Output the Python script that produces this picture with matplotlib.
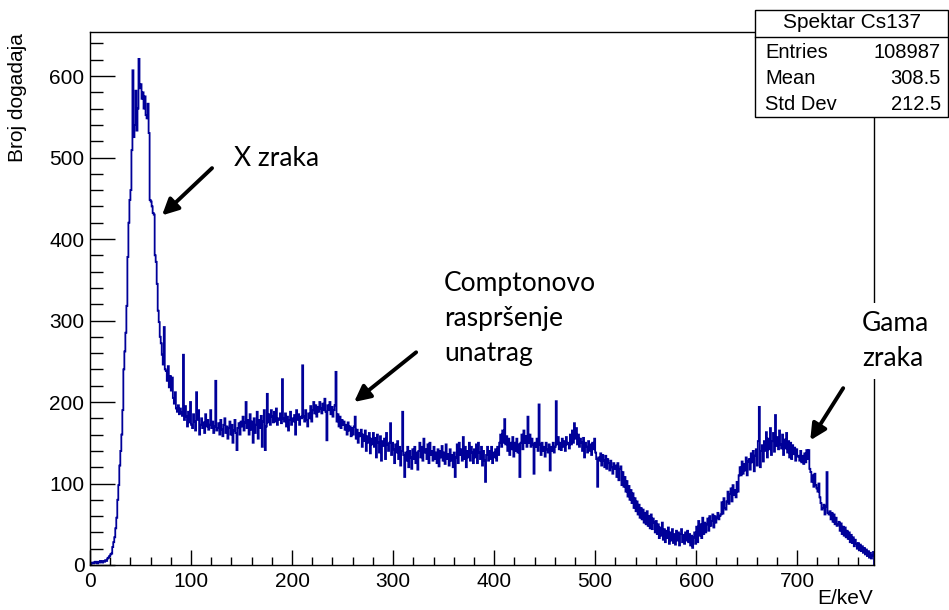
import matplotlib.pyplot as plt
import numpy as np
from matplotlib.patches import Rectangle
from matplotlib.lines import Line2D
from matplotlib.ticker import MultipleLocator

# Spektar Cs137, 1 keV po binu, ocitano sa slike
bin_width = 1
e_min = 0

low_energy = [  # 0 - 99 keV
    1, 2, 3, 2, 3, 4, 3, 2, 4, 3, 5, 4, 3, 5, 4, 6, 5, 8, 9, 11,
    13, 14, 22, 28, 34, 45, 58, 80, 98, 122, 140, 160, 190, 240, 262, 285, 318, 378, 420, 448,
    460, 509, 607, 525, 540, 582, 533, 560, 621, 585, 590, 572, 580, 560, 575, 552, 548, 566, 530, 448,
    446, 440, 432, 430, 380, 372, 345, 312, 298, 280, 272, 258, 246, 292, 240, 238, 226, 244, 218, 232,
    214, 230, 205, 198, 212, 192, 188, 196, 185, 192, 187, 183, 258, 178, 195, 182, 170, 188, 175, 200,
]
compton_a = [  # 100 - 299 keV
    172, 168, 185, 176, 165, 212, 178, 190, 160, 172, 180, 168, 175, 162, 185, 170, 178, 166, 172, 190,
    168, 176, 162, 170, 226, 165, 168, 174, 160, 178, 166, 158, 172, 180, 162, 170, 155, 168, 176, 160,
    172, 150, 165, 178, 162, 141, 168, 174, 160, 176, 170, 182, 165, 175, 200, 168, 178, 160, 185, 166,
    176, 150, 180, 162, 172, 188, 155, 178, 168, 183, 145, 176, 190, 141, 170, 210, 175, 185, 172, 190,
    182, 175, 188, 176, 192, 172, 180, 178, 186, 174, 228, 180, 176, 186, 170, 182, 165, 178, 188, 172,
    180, 176, 184, 160, 190, 178, 185, 172, 182, 180, 245, 182, 176, 190, 178, 170, 186, 180, 195, 176,
    190, 200, 186, 196, 182, 194, 188, 200, 192, 186, 198, 190, 204, 188, 153, 196, 190, 200, 185, 194,
    182, 190, 196, 237, 176, 185, 170, 182, 168, 178, 172, 176, 166, 172, 160, 175, 165, 170, 158, 168,
    160, 170, 182, 155, 166, 150, 162, 158, 166, 145, 160, 152, 165, 140, 158, 150, 162, 137, 155, 148,
    162, 145, 156, 132, 160, 150, 138, 158, 128, 152, 146, 155, 130, 162, 148, 140, 150, 174, 135, 150,
]
compton_b = [  # 300 - 519 keV
    142, 125, 148, 138, 152, 130, 145, 122, 140, 188, 135, 108, 138, 128, 145, 120, 140, 132, 118, 142,
    130, 145, 125, 138, 117, 140, 150, 132, 145, 128, 155, 138, 142, 130, 148, 125, 150, 135, 140, 128,
    145, 130, 138, 125, 142, 121, 140, 132, 146, 128, 138, 124, 148, 130, 136, 122, 142, 128, 135, 120,
    138, 108, 132, 148, 125, 150, 135, 142, 128, 157, 130, 145, 120, 140, 132, 150, 128, 145, 138, 125,
    142, 132, 148, 125, 150, 138, 130, 145, 122, 140, 128, 102, 135, 145, 128, 140, 130, 145, 125, 138,
    132, 142, 128, 145, 135, 150, 160, 145, 165, 150, 179, 148, 158, 140, 155, 135, 150, 142, 157, 133,
    150, 140, 155, 138, 148, 108, 150, 160, 142, 165, 150, 158, 145, 182, 150, 160, 145, 155, 148, 112,
    150, 145, 155, 140, 197, 148, 135, 150, 140, 145, 133, 150, 142, 138, 148, 116, 145, 140, 150, 138,
    145, 201, 148, 157, 142, 150, 141, 155, 145, 152, 140, 157, 148, 150, 143, 160, 148, 165, 150, 174,
    155, 168, 148, 160, 145, 155, 150, 140, 156, 132, 150, 145, 138, 152, 140, 148, 135, 150, 142, 155,
    138, 130, 96, 132, 128, 137, 122, 135, 128, 120, 134, 118, 130, 125, 116, 128, 120, 112, 125, 118,
]
valley = [  # 520 - 639 keV
    122, 108, 125, 104, 118, 121, 98, 114, 96, 108, 90, 103, 84, 97, 80, 92, 76, 88, 70, 82,
    66, 78, 62, 74, 58, 70, 56, 68, 52, 64, 50, 66, 48, 60, 45, 62, 44, 57, 52, 40,
    54, 38, 50, 33, 46, 36, 52, 31, 44, 28, 42, 33, 46, 26, 40, 30, 44, 27, 38, 25,
    42, 30, 40, 24, 38, 44, 28, 37, 26, 40, 30, 42, 28, 38, 24, 36, 21, 34, 40, 26,
    47, 28, 54, 36, 50, 33, 58, 38, 52, 40, 50, 57, 42, 60, 48, 54, 62, 46, 60, 52,
    58, 64, 56, 60, 62, 77, 63, 82, 70, 68, 78, 90, 75, 87, 94, 78, 98, 86, 92, 83,
]
gamma_peak = [  # 640 - 775 keV
    102, 90, 110, 120, 110, 127, 112, 124, 116, 132, 110, 127, 130, 117, 137, 126, 140, 115, 134, 142,
    122, 152, 194, 120, 140, 147, 127, 152, 140, 163, 132, 155, 142, 168, 135, 152, 162, 139, 184, 146,
    157, 142, 165, 148, 143, 160, 135, 154, 143, 162, 138, 152, 132, 150, 130, 147, 136, 144, 128, 142,
    133, 134, 128, 140, 126, 134, 124, 137, 126, 141, 130, 141, 118, 114, 102, 110, 96, 112, 98, 94,
    90, 100, 83, 76, 68, 70, 74, 62, 72, 114, 64, 62, 66, 56, 64, 53, 62, 50, 58, 48,
    50, 53, 42, 51, 38, 47, 36, 46, 34, 42, 32, 40, 28, 37, 27, 34, 23, 31, 26, 20,
    27, 18, 25, 17, 23, 15, 21, 13, 19, 11, 17, 9, 15, 8, 12, 16,
]

counts = np.array(low_energy + compton_a + compton_b + valley + gamma_peak)
edges = e_min + bin_width * np.arange(len(counts) + 1)

stats_title = "Spektar Cs137"
stats_rows = [("Entries", "108987"), ("Mean", "308.5"), ("Std Dev", "212.5")]

W, H = 949, 610


def fx(px):
    return px / W


def fy(py):
    return 1 - py / H


plt.rcParams['font.family'] = ['Liberation Sans', 'DejaVu Sans']
fig = plt.figure(figsize=(W / 100, H / 100), dpi=100)
ax = fig.add_axes([fx(90), fy(565), fx(874) - fx(90), fy(32) - fy(565)])

ax.stairs(counts, edges, color='#000099', lw=1.3)
ax.set_xlim(0, edges[-1])
ax.set_ylim(0, 654)

ax.xaxis.set_major_locator(MultipleLocator(100))
ax.xaxis.set_minor_locator(MultipleLocator(20))
ax.yaxis.set_major_locator(MultipleLocator(100))
ax.yaxis.set_minor_locator(MultipleLocator(20))
ax.tick_params(axis='both', which='both', direction='in', labelsize=15, width=1)
ax.tick_params(axis='x', which='major', length=11, pad=5)
ax.tick_params(axis='x', which='minor', length=6)
ax.tick_params(axis='y', which='major', length=18, pad=4)
ax.tick_params(axis='y', which='minor', length=9.5)
for s in ax.spines.values():
    s.set_linewidth(1)

fig.text(fx(873), fy(598), "E/keV", ha='right', va='center', fontsize=15)
fig.text(fx(18), fy(33), "Broj dogadaja", ha='center', va='top', rotation=90, fontsize=15)

# statistika
fig.add_artist(Rectangle((fx(755), fy(117)), fx(948) - fx(755), fy(10) - fy(117),
                         transform=fig.transFigure, facecolor='white', edgecolor='black', lw=1, zorder=5))
fig.add_artist(Line2D([fx(755), fx(948)], [fy(37), fy(37)], transform=fig.transFigure,
                      color='black', lw=1, zorder=6))
fig.text(fx(852), fy(23), stats_title, ha='center', va='center', fontsize=15, zorder=7)
for i, (name, val) in enumerate(stats_rows):
    y = fy(52 + 26 * i)
    fig.text(fx(765), y, name, ha='left', va='center', fontsize=14.5, zorder=7)
    fig.text(fx(941), y, val, ha='right', va='center', fontsize=14.5, zorder=7)

# oznake
note_font = ['Lato', 'DejaVu Sans']
arrow = dict(arrowstyle='-|>', color='black', lw=2.8, mutation_scale=24, shrinkA=0, shrinkB=0)
ax.text(142.6, 490, "X zraka", fontsize=19, family=note_font, va='baseline')
ax.annotate('', xy=(71.3, 429), xytext=(120.8, 487), arrowprops=arrow)

ax.text(350.5, 336, "Comptonovo", fontsize=19, family=note_font, va='baseline')
ax.text(350.5, 293, "raspršenje", fontsize=19, family=note_font, va='baseline')
ax.text(350.5, 250, "unatrag", fontsize=19, family=note_font, va='baseline')
ax.annotate('', xy=(261.4, 200), xytext=(322.8, 261), arrowprops=arrow)

fig.text(fx(862), fy(331), "Gama", fontsize=19, family=note_font, va='baseline', zorder=8,
         bbox=dict(facecolor='white', edgecolor='none', pad=6))
fig.text(fx(862), fy(366), "zraka", fontsize=19, family=note_font, va='baseline', zorder=8,
         bbox=dict(facecolor='white', edgecolor='none', pad=6))
ax.annotate('', xy=(712.9, 153), xytext=(745.5, 217), arrowprops=arrow)

fig.savefig('out.png', dpi=100)
